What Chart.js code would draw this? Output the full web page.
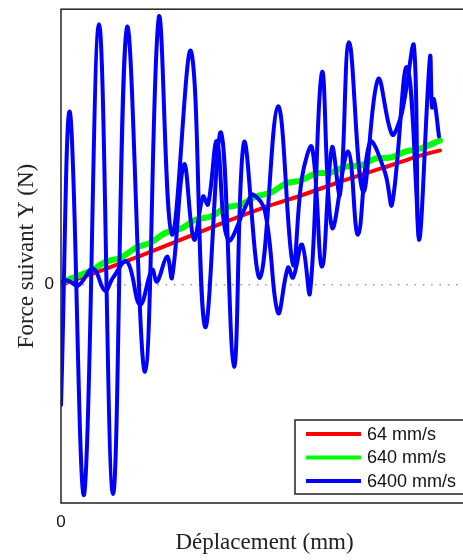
<!DOCTYPE html>
<html>
<head>
<meta charset="utf-8">
<script src="https://cdn.jsdelivr.net/npm/chart.js@4"></script>
<style>
  html, body { margin: 0; padding: 0; overflow: hidden; background: #fff; }
</style>
</head>
<body>
<canvas id="chart" width="470" height="560"></canvas>
<script>
// series (unites arbitraires, seul le 0 est gradue)
const series = ['64 mm/s', '640 mm/s', '6400 mm/s'];
const couleurs = ['#ff0000', '#00ff00', '#0000ff'];

// 64 mm/s
const x64 = [0, 40, 80, 120, 160, 200, 240, 280, 320, 360, 379];
const y64 = [0, 14, 29, 45, 61, 76, 89, 103, 116, 129, 134];

// 640 mm/s
const x640 = [0, 15, 30, 45, 60, 75, 90, 105, 120, 135, 150, 165, 180, 195, 210, 225, 240, 255, 270, 285, 300, 315, 330, 345, 360, 379];
const y640 = [2, 8, 14, 23, 27, 37, 42, 52, 56, 65, 68, 77, 80, 88, 92, 101, 104, 111, 112, 118, 119, 126, 127, 133, 136, 144];

// 6400 mm/s, deux passages
const x6400a = [0, 9, 23, 38, 52, 66, 84, 98, 111, 130, 144, 160, 173, 183, 199, 217, 232, 241, 251, 261, 271, 279, 288, 302, 317, 331, 339, 344, 353, 358, 369, 371, 373, 378];
const y6400a = [-120, 172, -210, 260, -209, 257, -87, 268, 50, 233, -42, 152, -82, 142, 7, 178, 20, 107, 137, 18, 137, 90, 242, 93, 205, 150, 165, 188, 238, 45, 227, 177, 185, 148];
const x6400b = [0, 7, 17, 32, 44, 52, 66, 79, 91, 96, 106, 111, 123, 133, 142, 147, 156, 167, 187, 192, 204, 217, 227, 232, 241, 249, 261, 271, 287, 297, 309, 324, 331, 346, 358];
const y6400b = [2, 4, -1, 16, -6, 7, 23, -20, 15, 3, 28, 7, 120, 45, 88, 80, 143, 45, 83, 90, 73, -28, 17, 7, 40, -8, 212, 57, 133, 50, 142, 112, 80, 217, 45];

function points(xs, ys) {
  return xs.map((x, i) => ({ x: x, y: ys[i] }));
}

// cadre, ligne du zero et legende facon matlab
const cadre = {
  id: 'cadre',
  beforeDatasetsDraw(chart) {
    const { ctx, chartArea: a, scales: { y } } = chart;
    const y0 = y.getPixelForValue(0);
    ctx.save();
    ctx.strokeStyle = '#9a9a9a';
    ctx.lineWidth = 1.5;
    ctx.setLineDash([1.5, 6.8]);
    ctx.beginPath();
    ctx.moveTo(a.left + 5, y0);
    ctx.lineTo(a.right, y0);
    ctx.stroke();
    ctx.restore();
  },
  afterDraw(chart) {
    const { ctx, chartArea: a } = chart;
    ctx.save();
    ctx.strokeStyle = '#222';
    ctx.lineWidth = 1.5;
    ctx.strokeRect(a.left, a.top, a.right - a.left, a.bottom - a.top);

    const bx = a.left + 234, by = a.bottom - 83;
    ctx.fillStyle = '#fff';
    ctx.fillRect(bx, by, a.right - 3 - bx, 74);
    ctx.strokeRect(bx, by, a.right - 3 - bx, 74);

    ctx.font = '18px "Liberation Sans", Arial, sans-serif';
    ctx.textBaseline = 'middle';
    series.forEach((nom, i) => {
      const ly = by + 14 + i * 23.5;
      ctx.strokeStyle = couleurs[i];
      ctx.lineWidth = 4;
      ctx.beginPath();
      ctx.moveTo(bx + 11, ly);
      ctx.lineTo(bx + 66, ly);
      ctx.stroke();
      ctx.fillStyle = '#111';
      ctx.fillText(nom, bx + 72, ly + 1);
    });
    ctx.restore();
  }
};

new Chart('chart', {
  type: 'line',
  data: {
    datasets: [
      { label: series[0], data: points(x64, y64), borderColor: couleurs[0], borderWidth: 4, tension: 0.2, order: 3 },
      { label: series[1], data: points(x640, y640), borderColor: couleurs[1], borderWidth: 6, tension: 0.3, order: 2 },
      { label: series[2], data: points(x6400a, y6400a), borderColor: couleurs[2], borderWidth: 4, tension: 0.4, order: 1 },
      { label: series[2], data: points(x6400b, y6400b), borderColor: couleurs[2], borderWidth: 4, tension: 0.4, order: 1 },
    ],
  },
  options: {
    responsive: false,
    animation: false,
    layout: { padding: { top: 4, right: 2, left: 0, bottom: 0 } },
    elements: {
      point: { radius: 0 },
      line: { borderCapStyle: 'round', borderJoinStyle: 'round', fill: false },
    },
    plugins: { legend: { display: false }, tooltip: { enabled: false } },
    scales: {
      x: {
        type: 'linear',
        min: 0,
        max: 407,
        afterBuildTicks: (s) => { s.ticks = [{ value: 0 }]; },
        afterFit: (s) => { s.height = 57; },
        grid: { display: false },
        border: { display: false },
        ticks: { padding: 1, color: '#111', font: { family: 'Liberation Sans', size: 17 } },
        title: {
          display: true,
          text: 'Déplacement (mm)',
          color: '#222',
          font: { family: 'Liberation Serif', size: 23 },
          padding: { top: 0, bottom: 3 },
        },
      },
      y: {
        type: 'linear',
        min: -218,
        max: 275,
        afterBuildTicks: (s) => { s.ticks = [{ value: 0 }]; },
        afterFit: (s) => { s.width = 61; },
        grid: { display: false },
        border: { display: false },
        ticks: { padding: -1, color: '#111', font: { family: 'Liberation Sans', size: 17 } },
        title: {
          display: true,
          text: 'Force suivant Y (N)',
          color: '#222',
          font: { family: 'Liberation Serif', size: 23 },
          padding: { top: 13, bottom: 0 },
        },
      },
    },
  },
  plugins: [cadre],
});
</script>
</body>
</html>
